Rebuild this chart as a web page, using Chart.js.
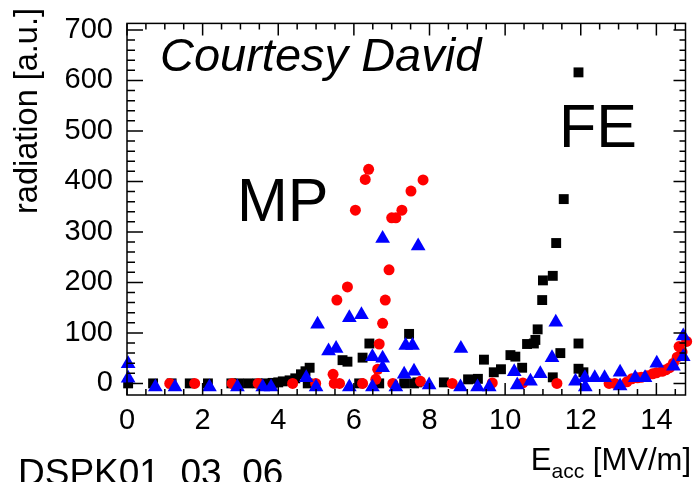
<!DOCTYPE html>
<html>
<head>
<meta charset="utf-8">
<script src="https://cdn.jsdelivr.net/npm/chart.js@4.4.0/dist/chart.umd.min.js"></script>
<style>
html,body{margin:0;padding:0;background:#fff;}
#wrap{width:694px;height:482px;}
</style>
</head>
<body>
<div id="wrap"><canvas id="radChart" width="694" height="482"></canvas></div>
<script>
const FONT = "'Liberation Sans', Arial, Helvetica, sans-serif";

// black squares
const blackEacc = [0.03,0.69,1.18,1.66,2.14,2.76,2.95,3.2,3.45,3.68,3.85,4.0,4.12,4.3,4.45,4.6,4.72,4.78,4.83,
  5.7,5.83,6.14,6.23,6.41,6.67,7.33,7.46,7.59,7.68,8.38,9.02,9.28,9.44,9.7,9.89,10.14,10.27,10.45,10.58,
  10.76,10.8,10.86,10.98,11.0,11.26,11.26,11.35,11.46,11.55,11.94,11.94,11.94,12.07];
const blackRad = [0,0,0,0,0,0,0,0,0,0,1,2,4,6,10,18,24,0,31,
  46,43,0,51,79,0,0,98,0,2,2,8,9,47,22,28,56,53,31,78,
  79,86,107,165,204,213,12,278,60,365,616,79,29,22];

// red circles
const redEacc = [1.13,1.79,2.78,3.47,4.38,4.99,5.45,5.48,5.55,5.62,5.83,6.04,6.23,6.3,6.39,6.58,6.63,6.67,6.76,
  6.83,6.93,7.0,7.03,7.11,7.27,7.51,7.76,7.83,8.6,9.66,10.47,11.37,12.75,12.9,13.22,13.35,13.5,13.6,13.75,
  13.9,14.0,14.15,14.25,14.35,14.45,14.55,14.6,14.68,14.8];
const redRad = [0,0,0,0,0,0,18,0,165,0,191,343,0,404,424,8,28,78,119,
  165,225,328,0,328,343,381,4,403,0,1,1,0,0,0,3,9,11,12,15,
  19,21,24,27,31,40,52,73,62,83];

// blue triangles
const blueEacc = [0.03,0.03,0.75,1.27,2.18,2.92,3.59,3.81,4.74,5.0,5.04,5.33,5.53,5.88,5.88,6.2,6.49,6.49,6.76,
  6.76,6.76,7.11,7.33,7.37,7.55,7.59,7.7,7.99,8.83,8.82,9.27,9.58,10.24,10.32,10.67,10.93,11.24,11.34,11.86,
  12.11,12.12,12.37,12.63,13.04,13.04,13.44,13.7,14.01,14.45,14.71,14.71];
const blueRad = [39,10,-7,-7,-7,-7,-7,-7,11,-7,117,64,69,-7,130,136,53,-7,287,
  50,31,-7,18,75,75,24,272,-3,69,-7,-7,-7,23,-3,4,19,51,121,4,
  11,-7,11,11,22,-5,11,11,40,34,53,94];

const xTicks = [0,2,4,6,8,10,12,14];
const yTicks = [0,100,200,300,400,500,600,700];

function pts(xs, ys){
  return xs.map((v,i) => ({x:v, y:ys[i]}));
}

const frameTicks = {
  id:'frameTicks',
  afterDraw(chart){
    const {ctx, chartArea:a, scales:{x, y}} = chart;
    ctx.save();
    ctx.strokeStyle = '#000';
    ctx.lineWidth = 1.5;
    ctx.strokeRect(a.left, a.top, a.right-a.left, a.bottom-a.top);
    ctx.beginPath();
    for(let i=0; i*0.5 <= x.max; i++){
      const px = x.getPixelForValue(i*0.5);
      const len = (i%4===0) ? 12 : 6;
      ctx.moveTo(px, a.bottom); ctx.lineTo(px, a.bottom-len);
      ctx.moveTo(px, a.top); ctx.lineTo(px, a.top+len);
    }
    for(let v=0; v<=y.max; v+=20){
      const py = y.getPixelForValue(v);
      const major = v%100===0;
      ctx.moveTo(a.left, py); ctx.lineTo(a.left+(major?16:8), py);
      ctx.moveTo(a.right, py); ctx.lineTo(a.right-(major?12:6), py);
    }
    ctx.stroke();

    ctx.fillStyle = '#000';
    ctx.textBaseline = 'alphabetic';
    ctx.textAlign = 'left';
    ctx.font = 'italic 47px ' + FONT;
    ctx.fillText('Courtesy David', 160, 71);
    ctx.font = '61px ' + FONT;
    ctx.fillText('MP', 237, 221);
    ctx.fillText('FE', 559, 147);

    ctx.font = '37px ' + FONT;
    ctx.fillText('DSPK01_03_06', 18, 485);

    // x title, right aligned
    const big = '31px ' + FONT, small = '21px ' + FONT;
    ctx.font = big;
    const wE = ctx.measureText('E').width;
    const wRest = ctx.measureText(' [MV/m]').width;
    ctx.font = small;
    const wSub = ctx.measureText('acc').width;
    let tx = 691 - wE - wSub - wRest;
    ctx.font = big;
    ctx.fillText('E', tx, 470);
    ctx.font = small;
    ctx.fillText('acc', tx+wE, 478);
    ctx.font = big;
    ctx.fillText(' [MV/m]', tx+wE+wSub, 470);

    // y title, rotated, at the top end
    ctx.translate(37, 8);
    ctx.rotate(-Math.PI/2);
    ctx.textAlign = 'right';
    ctx.font = '32.5px ' + FONT;
    ctx.fillText('radiation [a.u.]', 0, 0);
    ctx.restore();
  }
};

new Chart(document.getElementById('radChart'), {
  type:'scatter',
  data:{
    datasets:[
      {label:'black', data:pts(blackEacc, blackRad), pointStyle:'rect', pointRadius:7,
        backgroundColor:'#000', borderWidth:0, order:3, clip:false},
      {label:'red', data:pts(redEacc, redRad), pointStyle:'circle', pointRadius:5.5,
        backgroundColor:'#ff0000', borderWidth:0, order:2, clip:false},
      {label:'blue', data:pts(blueEacc, blueRad), pointStyle:'triangle', pointRadius:8.5,
        backgroundColor:'#0000ff', borderWidth:0, order:1, clip:false}
    ]
  },
  options:{
    responsive:false,
    animation:false,
    devicePixelRatio:1,
    layout:{padding:{top:11, right:7, left:0, bottom:0}},
    plugins:{legend:{display:false}, tooltip:{enabled:false}},
    scales:{
      x:{
        type:'linear', min:0, max:14.77,
        grid:{display:false}, border:{display:false},
        ticks:{color:'#000', font:{family:FONT, size:29}, padding:1, maxRotation:0},
        afterBuildTicks: s => { s.ticks = xTicks.map(v => ({value:v})); },
        afterFit: s => { s.height = 87; }
      },
      y:{
        type:'linear', min:-23, max:713,
        grid:{display:false}, border:{display:false},
        ticks:{color:'#000', font:{family:FONT, size:29}, padding:6},
        afterBuildTicks: s => { s.ticks = yTicks.map(v => ({value:v})); },
        afterFit: s => { s.width = 127; }
      }
    }
  },
  plugins:[frameTicks]
});
</script>
</body>
</html>
